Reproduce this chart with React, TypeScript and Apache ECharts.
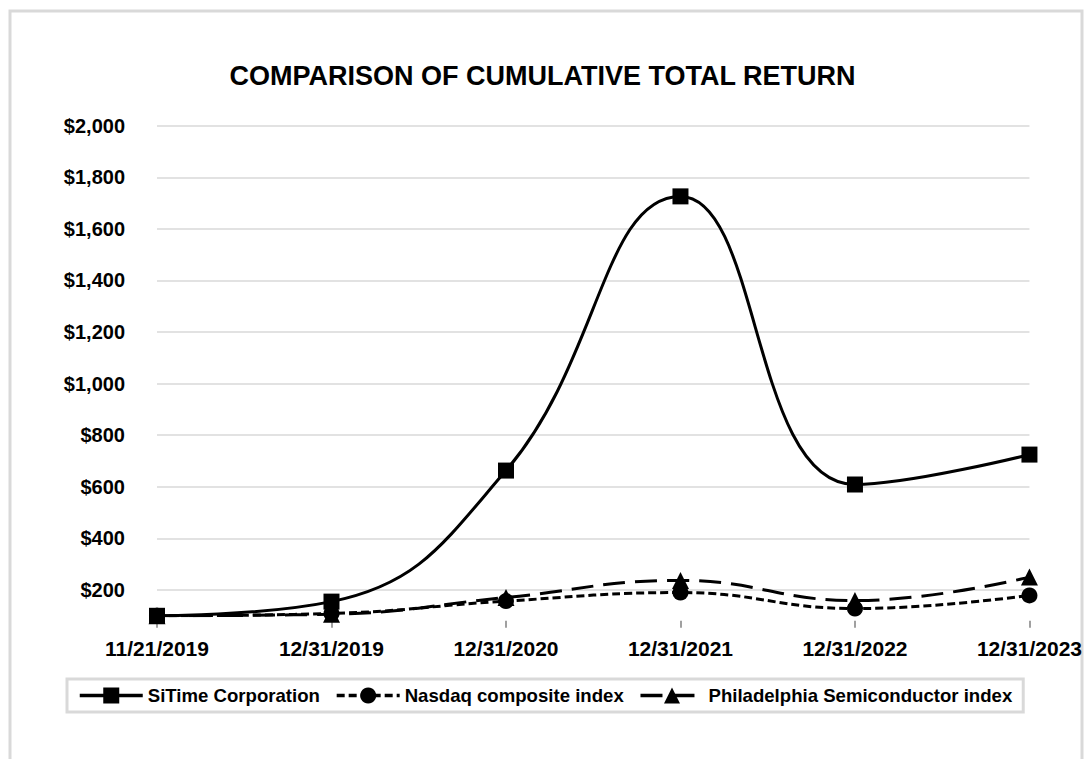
import React, { useEffect, useRef } from "react";
import * as echarts from "echarts";

const categories = ["11/21/2019", "12/31/2019", "12/31/2020", "12/31/2021", "12/31/2022", "12/31/2023"];
const siTime = [100, 155, 663, 1726, 609, 725];
const nasdaq = [100, 109, 157, 190, 128, 179];
const philly = [100, 106, 171, 237, 159, 250];
const yTicks = [200, 400, 600, 800, 1000, 1200, 1400, 1600, 1800, 2000];
const seriesNames = ["SiTime Corporation", "Nasdaq composite index", "Philadelphia Semiconductor index"];

const FONT = "'Liberation Sans', Arial, Helvetica, sans-serif";

export default function App() {
  const ref = useRef<HTMLDivElement>(null);
  useEffect(() => {
    if (!ref.current) return;
    const chart = echarts.init(ref.current, undefined, { renderer: "svg" });
    const mk = (name: string, data: number[], symbol: string, dash: any, size: number) => ({
      name,
      type: "line",
      data,
      smooth: 0.45,
      symbol,
      symbolSize: size,
      showSymbol: true,
      lineStyle: { color: "#000", width: 3, type: dash },
      itemStyle: { color: "#000" },
      z: 3,
    });
    chart.setOption({
      animation: false,
      backgroundColor: "#fff",
      textStyle: { fontFamily: FONT },
      graphic: [
        {
          type: "rect",
          shape: { x: 10, y: 11, width: 1072, height: 800 },
          style: { fill: "none", stroke: "#d9d9d9", lineWidth: 3 },
          silent: true,
          z: -10,
        },
      ],
      title: {
        text: "COMPARISON OF CUMULATIVE TOTAL RETURN",
        left: "center",
        top: 57,
        textStyle: { fontFamily: FONT, fontWeight: "bold", fontSize: 27, color: "#000" },
      },
      grid: { left: 157, right: 53, top: 125.7, bottom: 759 - 615.8 },
      xAxis: {
        type: "category",
        data: categories,
        boundaryGap: false,
        offset: 5,
        axisLine: { show: false },
        axisTick: { show: true, length: 7, lineStyle: { color: "#808080", width: 1.5 } },
        axisLabel: { color: "#000", fontWeight: "bold", fontSize: 21, fontFamily: FONT, margin: 17, interval: 0 },
        splitLine: { show: false },
      },
      yAxis: {
        type: "value",
        min: 100,
        max: 2000,
        axisLine: { show: false },
        axisTick: { show: false, customValues: yTicks },
        axisLabel: {
          customValues: yTicks,
          color: "#000",
          fontWeight: "bold",
          fontSize: 20,
          fontFamily: FONT,
          margin: 32,
          formatter: (v: number) => "$" + v.toLocaleString("en-US"),
        },
        splitLine: { show: true, customValues: yTicks, lineStyle: { color: "#d9d9d9", width: 1.5 } },
      },
      legend: {
        data: seriesNames,
        left: 67,
        top: 679,
        itemWidth: 63,
        itemHeight: 20,
        itemGap: 15,
        padding: [7, 11],
        borderColor: "#d9d9d9",
        borderWidth: 3,
        lineStyle: { width: 3.5 },
        textStyle: { color: "#000", fontWeight: "bold", fontSize: 18.6, fontFamily: FONT },
      },
      series: [
        mk(seriesNames[0], siTime, "rect", "solid", 16),
        mk(seriesNames[1], nasdaq, "circle", [8, 4], 16),
        mk(seriesNames[2], philly, "triangle", [22, 10], 17),
      ],
    });
    return () => chart.dispose();
  }, []);
  return <div ref={ref} style={{ position: "fixed", left: 0, top: 0, width: 1085, height: 759 }} />;
}
